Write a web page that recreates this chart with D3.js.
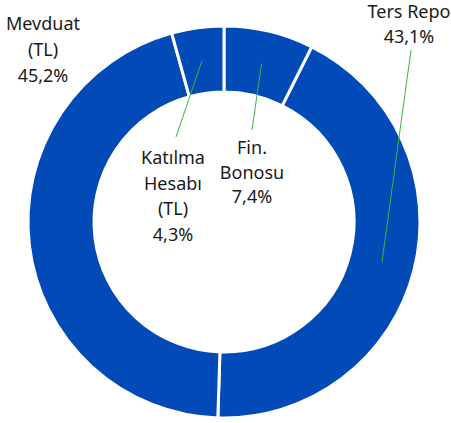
<!DOCTYPE html>
<html>
<head>
<meta charset="utf-8">
<script src="https://cdn.jsdelivr.net/npm/d3@7/dist/d3.min.js"></script>
<style>
  body { margin: 0; background: #fff; }
  svg text { font-family: "Noto Sans", sans-serif; font-size: 18px; fill: #1a1a1a; }
</style>
</head>
<body>
<svg width="451" height="423"></svg>
<script>
// slices, clockwise from 12 o'clock
var names = ["Fin. Bonosu", "Ters Repo", "Mevduat (TL)", "Katılma Hesabı (TL)"];
var values = [7.4, 43.1, 45.2, 4.3];
var labelLines = [
  ["Fin.", "Bonosu", "7,4%"],
  ["Ters Repo", "43,1%"],
  ["Mevduat", "(TL)", "45,2%"],
  ["Katılma", "Hesabı", "(TL)", "4,3%"]
];

var svg = d3.select("svg"),
  cx = 224,
  cy = 222,
  outerR = 196,
  innerR = 130;

// label anchor (first baseline), line height, leader end near label
var labelPos = [
  { x: 252, y: 154, lh: 24.5, lead: [252, 130] },
  { x: 409, y: 18, lh: 24.5, lead: [411, 50] },
  { x: 43, y: 30, lh: 26, lead: null },
  { x: 173, y: 164, lh: 25.6, lead: [176, 137] }
];

var pie = d3.pie().sort(null).value(function (d) { return d; });
var arcs = pie(values);

var arc = d3.arc().innerRadius(innerR).outerRadius(outerR);
var mid = d3.arc().innerRadius(163).outerRadius(163);

var g = svg.append("g").attr("transform", "translate(" + cx + "," + cy + ")");

g.selectAll("path")
  .data(arcs)
  .enter()
  .append("path")
  .attr("d", arc)
  .attr("fill", "#034ab9")
  .attr("stroke", "#fff")
  .attr("stroke-width", 3);

// leader lines
arcs.forEach(function (a, i) {
  var p = labelPos[i];
  if (!p.lead) return;
  var c = mid.centroid(a);
  svg.append("line")
    .attr("x1", cx + c[0])
    .attr("y1", cy + c[1])
    .attr("x2", p.lead[0])
    .attr("y2", p.lead[1])
    .attr("stroke", "#3cb43c")
    .attr("stroke-width", 1);
});

// labels
labelLines.forEach(function (lines, i) {
  var p = labelPos[i];
  var t = svg.append("text").attr("text-anchor", "middle");
  lines.forEach(function (s, j) {
    t.append("tspan")
      .attr("x", p.x)
      .attr("y", p.y + j * p.lh)
      .text(s);
  });
});
</script>
</body>
</html>
